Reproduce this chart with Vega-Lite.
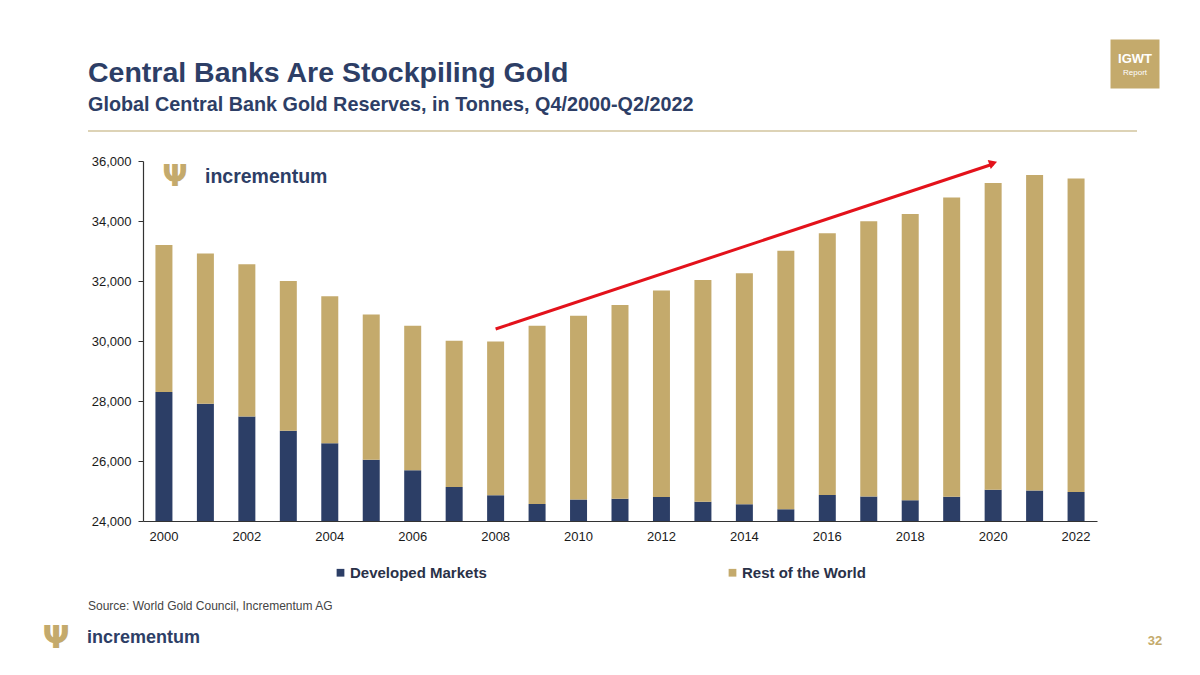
{
  "$schema": "https://vega.github.io/schema/vega-lite/v6.json",
  "width": 954,
  "height": 360,
  "autosize": {"type": "none"},
  "padding": {"left": 143, "top": 161, "right": 103, "bottom": 154},
  "background": "white",
  "config": {
    "font": "Liberation Sans",
    "view": {"stroke": null}
  },
  "title": {
    "text": "Central Banks Are Stockpiling Gold",
    "subtitle": "Global Central Bank Gold Reserves, in Tonnes, Q4/2000-Q2/2022",
    "anchor": "start",
    "frame": "group",
    "dx": -55,
    "offset": -75,
    "fontSize": 28.5,
    "fontWeight": "bold",
    "color": "#2D3E66",
    "subtitleFontSize": 19.8,
    "subtitleFontWeight": "bold",
    "subtitleColor": "#2D3E66",
    "subtitlePadding": 7,
    "font": "Liberation Sans",
    "subtitleFont": "Liberation Sans"
  },
  "data": {
    "values": [
      {"year": 2000, "series": "Developed Markets", "value": 28300},
      {"year": 2000, "series": "Rest of the World", "value": 4900},
      {"year": 2001, "series": "Developed Markets", "value": 27910},
      {"year": 2001, "series": "Rest of the World", "value": 5010},
      {"year": 2002, "series": "Developed Markets", "value": 27480},
      {"year": 2002, "series": "Rest of the World", "value": 5080},
      {"year": 2003, "series": "Developed Markets", "value": 27010},
      {"year": 2003, "series": "Rest of the World", "value": 4990},
      {"year": 2004, "series": "Developed Markets", "value": 26590},
      {"year": 2004, "series": "Rest of the World", "value": 4900},
      {"year": 2005, "series": "Developed Markets", "value": 26040},
      {"year": 2005, "series": "Rest of the World", "value": 4840},
      {"year": 2006, "series": "Developed Markets", "value": 25690},
      {"year": 2006, "series": "Rest of the World", "value": 4820},
      {"year": 2007, "series": "Developed Markets", "value": 25130},
      {"year": 2007, "series": "Rest of the World", "value": 4880},
      {"year": 2008, "series": "Developed Markets", "value": 24860},
      {"year": 2008, "series": "Rest of the World", "value": 5120},
      {"year": 2009, "series": "Developed Markets", "value": 24570},
      {"year": 2009, "series": "Rest of the World", "value": 5940},
      {"year": 2010, "series": "Developed Markets", "value": 24720},
      {"year": 2010, "series": "Rest of the World", "value": 6120},
      {"year": 2011, "series": "Developed Markets", "value": 24740},
      {"year": 2011, "series": "Rest of the World", "value": 6460},
      {"year": 2012, "series": "Developed Markets", "value": 24800},
      {"year": 2012, "series": "Rest of the World", "value": 6880},
      {"year": 2013, "series": "Developed Markets", "value": 24640},
      {"year": 2013, "series": "Rest of the World", "value": 7390},
      {"year": 2014, "series": "Developed Markets", "value": 24560},
      {"year": 2014, "series": "Rest of the World", "value": 7700},
      {"year": 2015, "series": "Developed Markets", "value": 24390},
      {"year": 2015, "series": "Rest of the World", "value": 8620},
      {"year": 2016, "series": "Developed Markets", "value": 24870},
      {"year": 2016, "series": "Rest of the World", "value": 8720},
      {"year": 2017, "series": "Developed Markets", "value": 24820},
      {"year": 2017, "series": "Rest of the World", "value": 9170},
      {"year": 2018, "series": "Developed Markets", "value": 24690},
      {"year": 2018, "series": "Rest of the World", "value": 9540},
      {"year": 2019, "series": "Developed Markets", "value": 24810},
      {"year": 2019, "series": "Rest of the World", "value": 9970},
      {"year": 2020, "series": "Developed Markets", "value": 25040},
      {"year": 2020, "series": "Rest of the World", "value": 10230},
      {"year": 2021, "series": "Developed Markets", "value": 25020},
      {"year": 2021, "series": "Rest of the World", "value": 10510},
      {"year": 2022, "series": "Developed Markets", "value": 24970},
      {"year": 2022, "series": "Rest of the World", "value": 10450}
    ]
  },
  "layer": [
    {
      "mark": {"type": "bar", "clip": true},
      "encoding": {
        "x": {
          "field": "year",
          "type": "ordinal",
          "scale": {"paddingInner": 0.59, "paddingOuter": 0.3},
          "axis": {
            "title": null,
            "values": [2000, 2002, 2004, 2006, 2008, 2010, 2012, 2014, 2016, 2018, 2020, 2022],
            "labelAngle": 0,
            "labelFontSize": 13,
            "labelColor": "#1a1a1a",
            "labelPadding": 9,
            "ticks": false,
            "domainColor": "#333333",
            "domainWidth": 1.2
          }
        },
        "y": {
          "field": "value",
          "type": "quantitative",
          "stack": "zero",
          "scale": {"domain": [24000, 36000], "nice": false, "zero": false},
          "axis": {
            "title": null,
            "values": [24000, 26000, 28000, 30000, 32000, 34000, 36000],
            "format": ",.0f",
            "grid": false,
            "labelFontSize": 13,
            "labelColor": "#1a1a1a",
            "labelPadding": 7,
            "tickSize": 5,
            "tickColor": "#333333",
            "domainColor": "#333333",
            "domainWidth": 1.2
          }
        },
        "color": {
          "field": "series",
          "type": "nominal",
          "scale": {"domain": ["Developed Markets", "Rest of the World"], "range": ["#2C3E66", "#C4AA6C"]},
          "legend": {
            "title": null,
            "orient": "none",
            "legendX": 190,
            "legendY": 404,
            "direction": "horizontal",
            "symbolType": "square",
            "symbolSize": 60,
            "symbolStrokeWidth": 0,
            "labelFontSize": 15,
            "labelFontWeight": "bold",
            "labelColor": "#2A3148",
            "labelOffset": 2,
            "columnPadding": 238
          }
        },
        "order": {"field": "series", "sort": "ascending"}
      }
    },
    {
      "data": {"values": [{"year": 2008, "v": 30400}, {"year": 2020, "v": 35900}]},
      "mark": {"type": "line", "color": "#E3121B", "strokeWidth": 3},
      "encoding": {
        "x": {"field": "year", "type": "ordinal"},
        "y": {"field": "v", "type": "quantitative"}
      }
    },
    {
      "data": {"values": [{"year": 2020, "v": 35930}]},
      "mark": {"type": "point", "shape": "triangle-right", "filled": true, "color": "#E3121B", "size": 90, "angle": 341.6, "opacity": 1},
      "encoding": {
        "x": {"field": "year", "type": "ordinal"},
        "y": {"field": "v", "type": "quantitative"}
      }
    },
    {
      "data": {"values": [{}]},
      "mark": {"type": "rule", "color": "#DDD3B6", "strokeWidth": 2},
      "encoding": {"x": {"value": -55}, "x2": {"value": 994}, "y": {"value": -30}}
    },
    {
      "data": {"values": [{}]},
      "mark": {"type": "text", "text": "incrementum", "font": "Liberation Sans", "fontWeight": "bold", "fontSize": 19.5, "color": "#2D3E66", "align": "left", "baseline": "middle"},
      "encoding": {"x": {"value": 62}, "y": {"value": 16}}
    },
    {
      "data": {"values": [{}]},
      "mark": {"type": "text", "text": "Ψ", "font": "DejaVu Sans", "fontWeight": "bold", "fontSize": 30, "color": "#C4AA6C", "align": "center", "baseline": "middle"},
      "encoding": {"x": {"value": 32}, "y": {"value": 16}}
    },
    {
      "data": {"values": [{}]},
      "mark": {"type": "text", "text": "Source: World Gold Council, Incrementum AG", "font": "Liberation Sans", "fontSize": 12, "color": "#444444", "align": "left", "baseline": "middle"},
      "encoding": {"x": {"value": -55}, "y": {"value": 445}}
    },
    {
      "data": {"values": [{}]},
      "mark": {"type": "text", "text": "incrementum", "font": "Liberation Sans", "fontWeight": "bold", "fontSize": 18, "color": "#2D3E66", "align": "left", "baseline": "middle"},
      "encoding": {"x": {"value": -56}, "y": {"value": 477}}
    },
    {
      "data": {"values": [{}]},
      "mark": {"type": "text", "text": "Ψ", "font": "DejaVu Sans", "fontWeight": "bold", "fontSize": 32, "color": "#C4AA6C", "align": "center", "baseline": "middle"},
      "encoding": {"x": {"value": -87}, "y": {"value": 477}}
    },
    {
      "data": {"values": [{}]},
      "mark": {"type": "text", "text": "32", "font": "Liberation Sans", "fontWeight": "bold", "fontSize": 13, "color": "#C4AA6C", "align": "center", "baseline": "middle"},
      "encoding": {"x": {"value": 1012}, "y": {"value": 480}}
    },
    {
      "data": {"values": [{}]},
      "mark": {"type": "point", "shape": "square", "filled": true, "color": "#C4AA6C", "size": 2400, "opacity": 1},
      "encoding": {"x": {"value": 992}, "y": {"value": -97}}
    },
    {
      "data": {"values": [{}]},
      "mark": {"type": "text", "text": "IGWT", "font": "Liberation Sans", "fontWeight": "bold", "fontSize": 13, "color": "white", "align": "center", "baseline": "middle"},
      "encoding": {"x": {"value": 992}, "y": {"value": -102}}
    },
    {
      "data": {"values": [{}]},
      "mark": {"type": "text", "text": "Report", "font": "Liberation Sans", "fontSize": 8, "color": "white", "align": "center", "baseline": "middle"},
      "encoding": {"x": {"value": 992}, "y": {"value": -88}}
    }
  ]
}
